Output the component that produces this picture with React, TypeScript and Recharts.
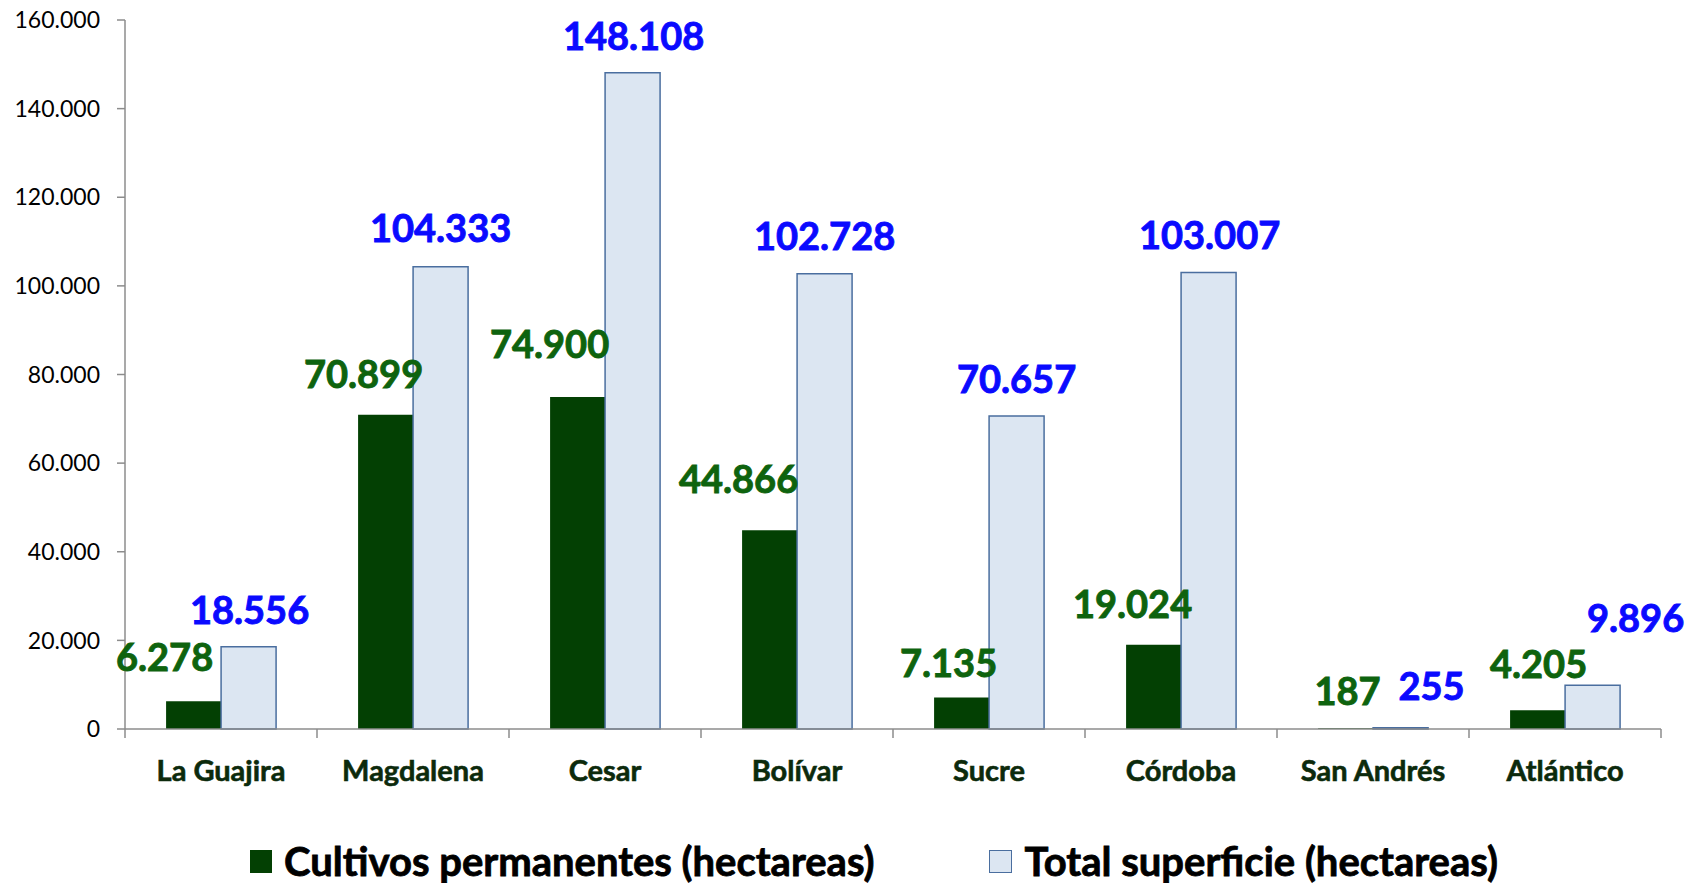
import React from "react";
import { Bar, BarChart, LabelList, Legend, XAxis, YAxis } from "recharts";

const departamentos = ["La Guajira", "Magdalena", "Cesar", "Bolívar", "Sucre", "Córdoba", "San Andrés", "Atlántico"];
const cultivosPermanentes = [6278, 70899, 74900, 44866, 7135, 19024, 187, 4205];
const totalSuperficie = [18556, 104333, 148108, 102728, 70657, 103007, 255, 9896];
const yTicks = [0, 20000, 40000, 60000, 80000, 100000, 120000, 140000, 160000];

// hand-placed label offsets (dx, dy) as in the original slide
const greenNudge = [[-29, -7], [-22, -4], [-28, -16], [-31, -14], [-13, 3], [-21, -4], [2, 0], [1, -9]];
const blueNudge = [[1, 0], [0, -2], [1, 0], [0, -1], [0, 0], [1, -1], [31, -5], [43, -30]];

const FONT = "Lato, 'Open Sans', sans-serif";
const AXIS = "#8c8c8c";
const GREEN = "#034003";
const LIGHT = "#dce6f2";
const LIGHT_EDGE = "#4a6e9f";

const data = departamentos.map((name, i) => ({
  name,
  permanentes: cultivosPermanentes[i],
  total: totalSuperficie[i],
}));

const fmt = (n: number) => String(n).replace(/\B(?=(\d{3})+(?!\d))/g, ".");

const makeLabel = (color: string, nudge: number[][]) => (props: any) => {
  const { x, y, width, value, index } = props;
  const [dx, dy] = nudge[index] ?? [0, 0];
  return (
    <text
      x={Number(x) + Number(width) / 2 + dx}
      y={Number(y) - 23 + dy}
      textAnchor="middle"
      fill={color}
      stroke={color}
      strokeWidth={0.9}
      fontSize={38}
      fontWeight={700}
      fontFamily={FONT}
    >
      {fmt(Number(value))}
    </text>
  );
};

const CategoryTick = (props: any) => {
  const { x, y, payload, index } = props;
  const half = payload?.offset ?? 0;
  const last = index === departamentos.length - 1;
  return (
    <g>
      <line x1={x - half} y1={y} x2={x - half} y2={y + 9} stroke={AXIS} strokeWidth={1.5} />
      {last && <line x1={x + half} y1={y} x2={x + half} y2={y + 9} stroke={AXIS} strokeWidth={1.5} />}
      <text
        x={x}
        y={y + 52}
        textAnchor="middle"
        fill="#0c2a0c"
        stroke="#0c2a0c"
        strokeWidth={0.6}
        fontSize={29}
        fontWeight={700}
        fontFamily={FONT}
      >
        {payload.value}
      </text>
    </g>
  );
};

const renderLegend = () => (
  <div
    style={{
      height: 44,
      display: "flex",
      alignItems: "center",
      paddingLeft: 250,
      fontFamily: FONT,
      fontWeight: 700,
      fontSize: 40,
      color: "#000",
      whiteSpace: "nowrap",
      WebkitTextStroke: "0.8px #000",
    }}
  >
    <span style={{ display: "inline-block", width: 22, height: 23, background: GREEN, marginRight: 12 }} />
    <span>Cultivos permanentes (hectareas)</span>
    <span
      style={{
        display: "inline-block",
        width: 23,
        height: 23,
        background: LIGHT,
        border: `1.5px solid ${LIGHT_EDGE}`,
        boxSizing: "border-box",
        marginLeft: 114,
        marginRight: 13,
      }}
    />
    <span>Total superficie (hectareas)</span>
  </div>
);

export default function App() {
  return (
    <div style={{ position: "absolute", left: 0, top: 0, background: "#fff" }}>
      <BarChart
        width={1702}
        height={883}
        data={data}
        margin={{ top: 20, right: 41, left: 0, bottom: 0 }}
        barGap={0}
        barCategoryGap="21.4%"
      >
        <XAxis
          dataKey="name"
          interval={0}
          height={110}
          tickLine={false}
          tickSize={0}
          tickMargin={0}
          axisLine={{ stroke: AXIS, strokeWidth: 1.5 }}
          tick={<CategoryTick />}
        />
        <YAxis
          width={125}
          domain={[0, 160000]}
          ticks={yTicks}
          interval={0}
          tickFormatter={fmt}
          tickSize={8}
          tickMargin={17}
          axisLine={{ stroke: AXIS, strokeWidth: 1.5 }}
          tickLine={{ stroke: AXIS, strokeWidth: 1.5 }}
          tick={{ fill: "#000", fontSize: 23, fontFamily: FONT }}
        />
        <Legend verticalAlign="bottom" content={renderLegend} wrapperStyle={{ left: 0, width: 1702 }} />
        <Bar dataKey="permanentes" fill={GREEN} isAnimationActive={false}>
          <LabelList dataKey="permanentes" content={makeLabel("#0e630e", greenNudge)} />
        </Bar>
        <Bar dataKey="total" fill={LIGHT} stroke={LIGHT_EDGE} strokeWidth={1.5} isAnimationActive={false}>
          <LabelList dataKey="total" content={makeLabel("#0a0aff", blueNudge)} />
        </Bar>
      </BarChart>
    </div>
  );
}
